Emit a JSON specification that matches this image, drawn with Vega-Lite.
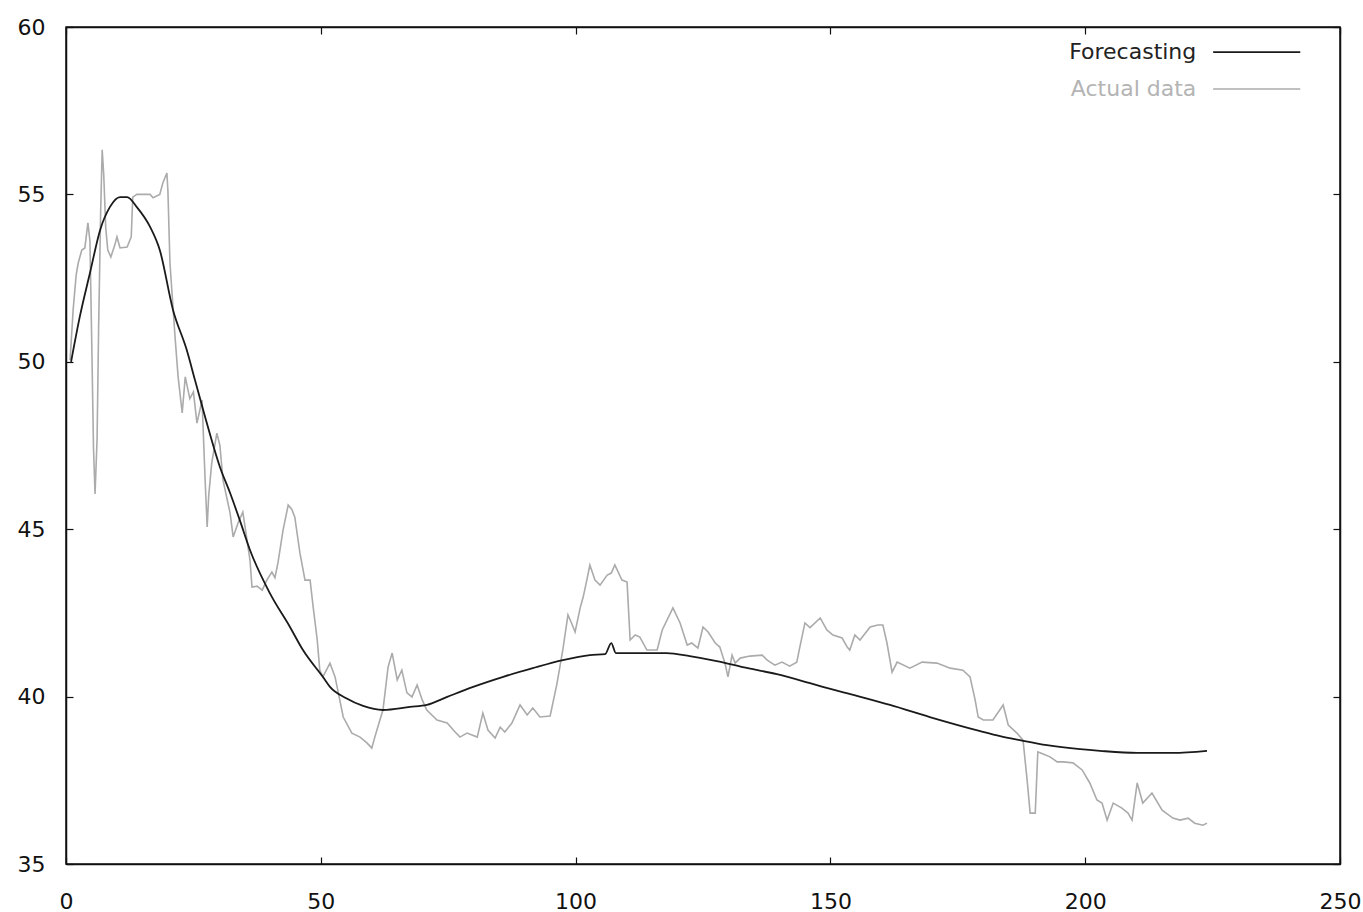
{
  "$schema": "https://vega.github.io/schema/vega-lite/v6.json",
  "autosize": {"type": "none"},
  "padding": {"left": 66, "top": 27, "right": 23, "bottom": 48},
  "width": 1274,
  "height": 837,
  "background": "white",
  "config": {
    "view": {"stroke": "#111", "strokeWidth": 1.5},
    "axis": {
      "grid": false,
      "domainColor": "#111",
      "domainWidth": 1.5,
      "tickColor": "#111",
      "tickWidth": 1.2,
      "tickSize": -7,
      "labelFont": "DejaVu Sans",
      "labelFontSize": 22,
      "labelColor": "#111",
      "labelFlush": false,
      "labelOverlap": false,
      "title": null
    }
  },
  "datasets": {
    "actual": [
      {"t": 0.8, "v": 50.05}, {"t": 1.4, "v": 51.55}, {"t": 2.0, "v": 52.6}, {"t": 2.4, "v": 52.95}, {"t": 3.1, "v": 53.34},
      {"t": 3.7, "v": 53.4}, {"t": 4.3, "v": 54.15}, {"t": 4.7, "v": 53.6}, {"t": 5.1, "v": 50.14}, {"t": 5.4, "v": 47.4},
      {"t": 5.7, "v": 46.05}, {"t": 6.1, "v": 47.7}, {"t": 6.4, "v": 51.0}, {"t": 6.8, "v": 54.5}, {"t": 7.1, "v": 56.33},
      {"t": 7.4, "v": 55.6}, {"t": 7.8, "v": 54.0}, {"t": 8.2, "v": 53.34}, {"t": 8.8, "v": 53.13}, {"t": 9.6, "v": 53.5},
      {"t": 10.0, "v": 53.73}, {"t": 10.6, "v": 53.4}, {"t": 12.0, "v": 53.43}, {"t": 12.8, "v": 53.73}, {"t": 13.1, "v": 54.92},
      {"t": 13.9, "v": 55.0}, {"t": 16.5, "v": 55.0}, {"t": 17.1, "v": 54.9}, {"t": 18.4, "v": 55.0}, {"t": 19.0, "v": 55.34},
      {"t": 19.8, "v": 55.64}, {"t": 20.0, "v": 55.1}, {"t": 20.4, "v": 52.95}, {"t": 21.4, "v": 50.74}, {"t": 22.0, "v": 49.55},
      {"t": 22.8, "v": 48.47}, {"t": 23.4, "v": 49.55}, {"t": 24.3, "v": 48.9}, {"t": 25.0, "v": 49.1}, {"t": 25.7, "v": 48.17},
      {"t": 26.7, "v": 48.86}, {"t": 27.3, "v": 46.47}, {"t": 27.7, "v": 45.07}, {"t": 28.0, "v": 46.0}, {"t": 28.6, "v": 46.98},
      {"t": 29.6, "v": 47.87}, {"t": 30.2, "v": 47.5}, {"t": 30.8, "v": 46.47}, {"t": 32.2, "v": 45.48}, {"t": 32.8, "v": 44.77},
      {"t": 33.8, "v": 45.2}, {"t": 34.7, "v": 45.51}, {"t": 35.4, "v": 44.8}, {"t": 36.1, "v": 44.08}, {"t": 36.5, "v": 43.27},
      {"t": 37.5, "v": 43.3}, {"t": 38.5, "v": 43.18}, {"t": 39.4, "v": 43.48}, {"t": 40.4, "v": 43.72}, {"t": 41.0, "v": 43.55},
      {"t": 41.6, "v": 44.0}, {"t": 42.6, "v": 44.98}, {"t": 43.6, "v": 45.72}, {"t": 44.3, "v": 45.6}, {"t": 44.9, "v": 45.36},
      {"t": 45.9, "v": 44.29}, {"t": 46.9, "v": 43.48}, {"t": 47.9, "v": 43.48}, {"t": 48.5, "v": 42.68}, {"t": 49.3, "v": 41.69},
      {"t": 49.8, "v": 40.79}, {"t": 50.4, "v": 40.59}, {"t": 51.8, "v": 41.0}, {"t": 52.8, "v": 40.59}, {"t": 54.4, "v": 39.39},
      {"t": 56.1, "v": 38.91}, {"t": 57.7, "v": 38.79}, {"t": 59.1, "v": 38.61}, {"t": 60.0, "v": 38.46}, {"t": 60.6, "v": 38.79},
      {"t": 61.6, "v": 39.3}, {"t": 62.2, "v": 39.6}, {"t": 63.2, "v": 40.88}, {"t": 64.0, "v": 41.3}, {"t": 65.0, "v": 40.5},
      {"t": 65.9, "v": 40.79}, {"t": 66.9, "v": 40.11}, {"t": 67.9, "v": 39.99}, {"t": 68.9, "v": 40.35}, {"t": 69.9, "v": 39.9},
      {"t": 70.8, "v": 39.6}, {"t": 72.8, "v": 39.3}, {"t": 74.8, "v": 39.21}, {"t": 76.0, "v": 39.0}, {"t": 77.3, "v": 38.79},
      {"t": 78.7, "v": 38.91}, {"t": 80.7, "v": 38.79}, {"t": 81.8, "v": 39.51}, {"t": 82.8, "v": 39.0}, {"t": 84.2, "v": 38.76},
      {"t": 85.2, "v": 39.09}, {"t": 86.1, "v": 38.94}, {"t": 87.5, "v": 39.21}, {"t": 89.1, "v": 39.75}, {"t": 90.5, "v": 39.45},
      {"t": 91.6, "v": 39.66}, {"t": 93.0, "v": 39.39}, {"t": 95.0, "v": 39.42}, {"t": 96.3, "v": 40.35}, {"t": 97.5, "v": 41.4},
      {"t": 98.5, "v": 42.44}, {"t": 99.2, "v": 42.2}, {"t": 99.9, "v": 41.93}, {"t": 100.9, "v": 42.65}, {"t": 101.5, "v": 42.98},
      {"t": 102.2, "v": 43.48}, {"t": 102.8, "v": 43.93}, {"t": 103.8, "v": 43.48}, {"t": 104.8, "v": 43.33}, {"t": 106.2, "v": 43.63},
      {"t": 107.0, "v": 43.69}, {"t": 107.7, "v": 43.93}, {"t": 109.1, "v": 43.48}, {"t": 110.1, "v": 43.42}, {"t": 110.7, "v": 41.69},
      {"t": 111.7, "v": 41.84}, {"t": 112.6, "v": 41.78}, {"t": 114.0, "v": 41.39}, {"t": 116.0, "v": 41.39}, {"t": 117.0, "v": 41.99},
      {"t": 119.1, "v": 42.65}, {"t": 120.5, "v": 42.2}, {"t": 121.9, "v": 41.54}, {"t": 122.8, "v": 41.6}, {"t": 124.0, "v": 41.45},
      {"t": 125.0, "v": 42.08}, {"t": 126.0, "v": 41.93}, {"t": 127.4, "v": 41.6}, {"t": 128.3, "v": 41.48}, {"t": 129.3, "v": 41.0},
      {"t": 129.9, "v": 40.59}, {"t": 130.7, "v": 41.24}, {"t": 131.3, "v": 41.0}, {"t": 132.3, "v": 41.15}, {"t": 134.2, "v": 41.21},
      {"t": 136.6, "v": 41.24}, {"t": 137.6, "v": 41.09}, {"t": 139.1, "v": 40.94}, {"t": 140.5, "v": 41.03}, {"t": 142.0, "v": 40.91},
      {"t": 143.4, "v": 41.03}, {"t": 144.0, "v": 41.48}, {"t": 145.0, "v": 42.2}, {"t": 146.0, "v": 42.06}, {"t": 148.0, "v": 42.35},
      {"t": 149.3, "v": 41.99}, {"t": 150.5, "v": 41.84}, {"t": 152.3, "v": 41.75}, {"t": 153.3, "v": 41.48}, {"t": 153.8, "v": 41.39},
      {"t": 154.8, "v": 41.84}, {"t": 155.8, "v": 41.69}, {"t": 157.8, "v": 42.08}, {"t": 159.3, "v": 42.14}, {"t": 160.3, "v": 42.14},
      {"t": 161.1, "v": 41.6}, {"t": 162.1, "v": 40.73}, {"t": 163.1, "v": 41.03}, {"t": 165.6, "v": 40.85}, {"t": 168.0, "v": 41.03},
      {"t": 170.9, "v": 41.0}, {"t": 173.5, "v": 40.85}, {"t": 176.0, "v": 40.79}, {"t": 177.4, "v": 40.59}, {"t": 178.4, "v": 39.9},
      {"t": 179.0, "v": 39.39}, {"t": 180.0, "v": 39.3}, {"t": 181.9, "v": 39.3}, {"t": 183.9, "v": 39.75}, {"t": 184.9, "v": 39.15},
      {"t": 186.6, "v": 38.91}, {"t": 187.8, "v": 38.7}, {"t": 188.6, "v": 37.51}, {"t": 189.2, "v": 36.52}, {"t": 190.2, "v": 36.52},
      {"t": 190.7, "v": 38.35}, {"t": 191.5, "v": 38.3}, {"t": 193.1, "v": 38.2}, {"t": 194.5, "v": 38.05}, {"t": 195.7, "v": 38.05},
      {"t": 197.6, "v": 38.02}, {"t": 199.4, "v": 37.81}, {"t": 200.9, "v": 37.42}, {"t": 202.3, "v": 36.91}, {"t": 203.3, "v": 36.82},
      {"t": 204.3, "v": 36.31}, {"t": 205.5, "v": 36.82}, {"t": 207.2, "v": 36.67}, {"t": 208.4, "v": 36.52}, {"t": 209.2, "v": 36.31},
      {"t": 210.2, "v": 37.42}, {"t": 211.3, "v": 36.82}, {"t": 213.1, "v": 37.12}, {"t": 215.1, "v": 36.61}, {"t": 217.2, "v": 36.37},
      {"t": 218.6, "v": 36.31}, {"t": 220.2, "v": 36.37}, {"t": 221.5, "v": 36.22}, {"t": 223.1, "v": 36.16}, {"t": 223.9, "v": 36.22}
    ],
    "forecast": [
      {"t": 1.0, "v": 50.0}, {"t": 2.7, "v": 51.34}, {"t": 4.7, "v": 52.65}, {"t": 6.7, "v": 53.94}, {"t": 8.6, "v": 54.62},
      {"t": 10.6, "v": 54.92}, {"t": 12.0, "v": 54.92}, {"t": 13.9, "v": 54.62}, {"t": 16.5, "v": 54.03}, {"t": 18.4, "v": 53.34},
      {"t": 21.0, "v": 51.55}, {"t": 23.7, "v": 50.35}, {"t": 25.3, "v": 49.46}, {"t": 27.3, "v": 48.35}, {"t": 30.2, "v": 46.86},
      {"t": 32.2, "v": 46.08}, {"t": 34.1, "v": 45.27}, {"t": 36.1, "v": 44.38}, {"t": 40.0, "v": 43.09}, {"t": 43.95, "v": 42.08},
      {"t": 46.5, "v": 41.39}, {"t": 50.4, "v": 40.59}, {"t": 51.8, "v": 40.29}, {"t": 55.0, "v": 39.95}, {"t": 58.3, "v": 39.72},
      {"t": 62.2, "v": 39.6}, {"t": 67.5, "v": 39.69}, {"t": 70.8, "v": 39.75}, {"t": 74.8, "v": 39.99}, {"t": 79.9, "v": 40.29},
      {"t": 85.8, "v": 40.59}, {"t": 91.6, "v": 40.85}, {"t": 97.5, "v": 41.09}, {"t": 102.8, "v": 41.24}, {"t": 105.8, "v": 41.27},
      {"t": 107.0, "v": 41.6}, {"t": 107.9, "v": 41.3}, {"t": 112.0, "v": 41.3}, {"t": 117.9, "v": 41.3}, {"t": 122.4, "v": 41.21},
      {"t": 127.7, "v": 41.06}, {"t": 132.8, "v": 40.88}, {"t": 139.5, "v": 40.67}, {"t": 146.0, "v": 40.4}, {"t": 148.5, "v": 40.29},
      {"t": 155.2, "v": 40.02}, {"t": 161.7, "v": 39.75}, {"t": 169.5, "v": 39.39}, {"t": 179.4, "v": 38.97}, {"t": 183.3, "v": 38.82},
      {"t": 187.2, "v": 38.7}, {"t": 192.5, "v": 38.55}, {"t": 199.0, "v": 38.43}, {"t": 202.9, "v": 38.38}, {"t": 210.2, "v": 38.32},
      {"t": 217.2, "v": 38.32}, {"t": 223.9, "v": 38.38}
    ]
  },
  "resolve": {"axis": {"x": "independent", "y": "independent"}},
  "layer": [
    {
      "data": {"name": "actual"},
      "mark": {"type": "line", "color": "#ababab", "strokeWidth": 1.6},
      "encoding": {
        "x": {"field": "t", "type": "quantitative", "scale": {"domain": [0, 250], "nice": false, "zero": false},
              "axis": {"orient": "bottom", "values": [0, 50, 100, 150, 200, 250], "labelPadding": 34}},
        "y": {"field": "v", "type": "quantitative", "scale": {"domain": [35, 60], "nice": false, "zero": false},
              "axis": {"orient": "left", "values": [35, 40, 45, 50, 55, 60], "labelPadding": 28}}
      }
    },
    {
      "data": {"name": "forecast"},
      "mark": {"type": "line", "color": "#1a1a1a", "strokeWidth": 1.8, "interpolate": "monotone"},
      "encoding": {
        "x": {"field": "t", "type": "quantitative",
              "axis": {"orient": "top", "values": [0, 50, 100, 150, 200, 250], "labels": false}},
        "y": {"field": "v", "type": "quantitative",
              "axis": {"orient": "right", "values": [35, 40, 45, 50, 55, 60], "labels": false}}
      }
    },
    {
      "data": {"values": [{}]},
      "mark": {"type": "text", "align": "right", "baseline": "middle", "font": "DejaVu Sans", "fontSize": 22, "color": "#222"},
      "encoding": {
        "x": {"datum": 221.8, "type": "quantitative", "axis": null},
        "y": {"datum": 59.25, "type": "quantitative", "axis": null},
        "text": {"value": "Forecasting"}
      }
    },
    {
      "data": {"values": [{}]},
      "mark": {"type": "text", "align": "right", "baseline": "middle", "font": "DejaVu Sans", "fontSize": 22, "color": "#b4b4b4"},
      "encoding": {
        "x": {"datum": 221.8, "type": "quantitative", "axis": null},
        "y": {"datum": 58.15, "type": "quantitative", "axis": null},
        "text": {"value": "Actual data"}
      }
    },
    {
      "data": {"values": [{}]},
      "mark": {"type": "rule", "color": "#1a1a1a", "strokeWidth": 1.6},
      "encoding": {
        "x": {"datum": 225.1, "type": "quantitative", "axis": null},
        "x2": {"datum": 242.2},
        "y": {"datum": 59.25, "type": "quantitative", "axis": null}
      }
    },
    {
      "data": {"values": [{}]},
      "mark": {"type": "rule", "color": "#ababab", "strokeWidth": 1.6},
      "encoding": {
        "x": {"datum": 225.1, "type": "quantitative", "axis": null},
        "x2": {"datum": 242.2},
        "y": {"datum": 58.15, "type": "quantitative", "axis": null}
      }
    }
  ]
}
